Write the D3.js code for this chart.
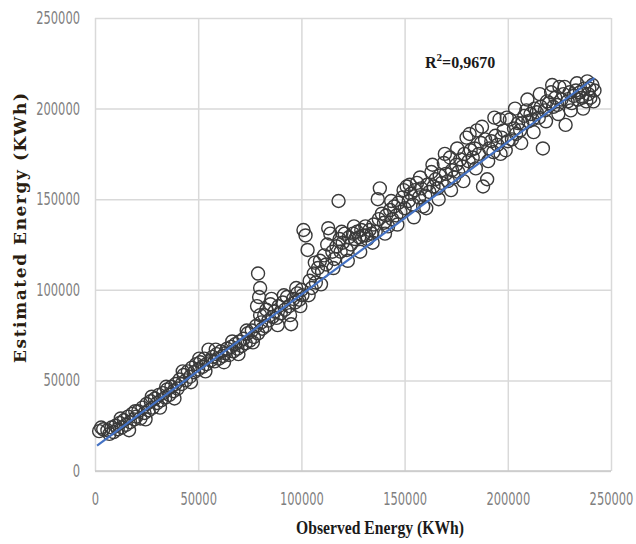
<!DOCTYPE html>
<html>
<head>
<meta charset="utf-8">
<script src="https://cdn.jsdelivr.net/npm/d3@7"></script>
<style>
    body { margin: 0; background: #fff; }
    svg { display: block; }
</style>
</head>
<body>
<div id="chart"></div>
<script>
'use strict';

// observed energy (KWh)
const observed = [
    2000, 4000, 6000, 8000, 9000, 10000, 11000, 12000, 13000, 14000,
    15000, 16000, 17000, 18000, 19000, 20000, 21000, 22000, 23000, 24000,
    25000, 26000, 27000, 28000, 29000, 30000, 31000, 32000, 33000, 34000,
    35000, 36000, 37000, 38000, 39000, 40000, 41000, 42000, 43000, 44000,
    45000, 46000, 47000, 48000, 49000, 50000, 51000, 52000, 53000, 54000,
    55000, 56000,
    57000, 58000, 59000, 60000, 61000, 62000, 63000, 64000, 65000, 66000,
    67000, 68000, 69000, 70000, 71000, 72000, 73000, 74000, 75000, 76000,
    77000, 78000, 79000, 79000, 79500, 80000, 80500, 81000,
    82000, 83000, 84000, 85000, 86000, 87000, 88000, 89000, 90000, 91000,
    92000, 93000, 94000, 95000, 96000, 97000, 98000, 99000, 100000, 100500,
    101000, 102000, 103000, 104000, 105000, 106000, 107000, 108000, 109000, 110000,
    111000, 112000, 113000, 114000, 115000, 116000, 117000, 118000, 118500, 119000,
    120000, 121000, 122000, 123000, 124000, 125000, 126000, 127000, 128000, 129000,
    130000, 131000, 132000, 133000, 134000, 135000, 136000, 137000, 138000, 139000,
    140000, 141000, 142000, 143000, 144000, 145000, 146000, 147000, 148000, 149000,
    150000,
    151000, 152000, 153000, 154000, 155000, 156000, 157000, 158000, 159000, 160000,
    161000, 162000, 163000, 164000, 165000, 166000, 167000, 168000, 169000, 170000,
    171000, 172000, 173000, 174000, 175000, 176000, 177000, 178000, 179000, 180000,
    181000, 182000, 183000, 184000, 185000, 186000, 187000, 188000, 189000, 190000,
    191000, 192000, 193000, 194000, 195000, 196000, 197000, 198000, 199000, 200000,
    201000, 202000, 203000, 204000, 205000, 206000, 207000, 208000, 209000, 210000,
    211000, 212000, 213000, 214000, 215000, 216000, 217000, 218000, 219000, 220000,
    221000, 222000, 223000, 224000, 225000, 226000, 227000, 228000, 229000, 230000,
    231000, 232000, 233000, 234000, 235000, 236000, 237000, 238000, 239000, 240000,
    241000, 242000,
    // second pass: the wider edges of the cloud
    3000, 7000, 12500, 16500, 19500, 24500, 27500, 31500, 34500, 38500,
    42500, 46500, 50500, 53500,
    58500, 62500, 66500, 69500, 73500, 76500, 78500, 80000,
    82500, 85500, 88500, 91500, 94500, 97500, 99500,
    103500, 106500, 109500, 112500, 115500, 119500, 122500, 125500, 128500, 131500,
    134500, 137500, 140500, 143500, 146500, 149500, 152500,
    154500, 157500, 160500, 163500, 166500, 169500, 172500, 175500, 178500, 181500,
    184500, 187500, 190500, 193500, 196500, 199500,
    203500, 206500, 209500, 212500, 215500, 218500, 221500, 224500, 227500, 230500,
    233500, 236500, 239500, 241500, 238500
];

// estimated energy (KWh), same order as observed
const estimated = [
    22000, 23000, 22500, 24000, 21500, 25000, 23000, 26500, 24000, 28000,
    25500, 30000, 27000, 31500, 28500, 30000, 33000, 29000, 35000, 32000,
    37000, 33500, 38500, 35000, 40000, 37500, 42000, 39000, 43000, 40500,
    45000, 42000, 46500, 44000, 48000, 45500, 50500, 48000, 53000, 50000,
    55000, 52000, 57000, 54500, 59000, 56000, 60000, 57500, 62000, 59000,
    67000, 61000,
    63000, 60500, 64500, 62000, 66000, 63500, 65000, 67500, 64000, 68500,
    66000, 70000, 67500, 71500, 69000, 73000, 70500, 76000, 72000, 77500,
    74000, 80000, 76000, 109000, 96000, 101000, 82000, 78500,
    86000, 89000, 83000, 92000, 85000, 88000, 84500, 91000, 87000, 93000,
    89000, 96000, 91000, 81000, 95000, 93000, 98000, 94500, 100000, 97000,
    133000, 130000, 122000, 105000, 101000, 109000, 104000, 112000, 116000, 110000,
    119000, 114000, 134000, 131000, 121000, 117000, 124000, 149000, 128000, 121000,
    126000, 131000, 122000, 129000, 125000, 131000, 128000, 132000, 129000, 133000,
    130000, 135000, 128000, 133000, 131000, 136000, 132000, 150000, 156000, 142000,
    137000, 141000, 135000, 144000, 139000, 146000, 141000, 148000, 143000, 151000,
    145000,
    157000, 149000, 153000, 147000, 155000, 159000, 151000, 156000, 146000, 152000,
    158000, 154000, 165000, 157000, 161000, 156000, 163000, 159000, 170000, 164000,
    160000, 173000, 166000, 162000, 169000, 165000, 172000, 168000, 175000, 184000,
    171000, 177000, 173000, 178000, 188000, 175000, 181000, 157000, 183000, 161000,
    178000, 182000, 176000, 185000, 180000, 194000, 184000, 188000, 177000, 182000,
    194000, 183000, 189000, 186000, 192000, 188000, 192000, 196000, 199000, 193000,
    197000, 194000, 200000, 198000, 195000, 201000, 178000, 199000, 204000, 203000,
    209000, 201000, 206000, 202000, 212000, 205000, 208000, 191000, 204000, 209000,
    203000, 207000, 210000, 205000, 209000, 206000, 211000, 204000, 208000, 206000,
    213000, 210000,
    24000, 20500, 29000, 22500, 33000, 28500, 41000, 35000, 46500, 40000,
    55000, 49000, 62000, 55000,
    67000, 60000, 71500, 64500, 77500, 71000, 91000, 86000,
    80000, 95000, 80500, 97000, 86000, 101000, 91000,
    97000, 115000, 103000, 125000, 112000, 132000, 116000, 135000, 121000, 130000,
    126000, 139000, 131000, 149000, 136000, 155000, 158000,
    140000, 162000, 145000, 169000, 150000, 175000, 155000, 178000, 160000, 186000,
    167000, 190000, 171000, 195000, 175000, 195000,
    200000, 181000, 205000, 187000, 208000, 193000, 213000, 197000, 212000, 199000,
    214000, 200000, 211000, 204000, 215000
];

// linear trendline as drawn in the picture
const trendX = [1000, 242000];
const trendY = [14000, 217000];

const xTicks = [0, 50000, 100000, 150000, 200000, 250000];
const yTicks = [0, 50000, 100000, 150000, 200000, 250000];
const rSquared = '=0,9670';

(function () {
    const width = 636, height = 544;
    const margin = {top: 18, right: 25, bottom: 73, left: 95};
    const w = width - margin.left - margin.right;
    const h = height - margin.top - margin.bottom;

    const svg = d3.select('#chart').append('svg')
        .attr('width', width)
        .attr('height', height);

    const g = svg.append('g')
        .attr('transform', `translate(${margin.left},${margin.top})`);

    const x = d3.scaleLinear().domain([0, 250000]).range([0, w]);
    const y = d3.scaleLinear().domain([0, 250000]).range([h, 0]);

    const tickFont = '"Liberation Sans Narrow", "DejaVu Sans Condensed", sans-serif';
    const fmt = d3.format('d');
    const digitW = 7.3;

    // squeeze tick digits horizontally, like the original's narrow font
    function styleTicks(sel) {
        sel.select('.domain').remove();
        sel.selectAll('text')
            .attr('fill', '#7f7f7f')
            .style('font-family', tickFont)
            .style('font-size', '17px')
            .each(function (d) {
                const t = d3.select(this);
                const k = Math.min(1, fmt(d).length * digitW / this.getComputedTextLength());
                const x0 = +t.attr('x') || 0;
                t.attr('x', x0 / k).attr('transform', `scale(${k},1)`);
            });
    }

    // gridlines
    g.append('g')
        .call(d3.axisLeft(y).tickValues(yTicks).tickSize(-w).tickFormat(''))
        .call(s => s.select('.domain').remove())
        .selectAll('line')
            .attr('stroke', '#d9d9d9')
            .attr('stroke-width', 1.5);

    g.append('g')
        .attr('transform', `translate(0,${h})`)
        .call(d3.axisBottom(x).tickValues(xTicks).tickSize(-h).tickFormat(''))
        .call(s => s.select('.domain').remove())
        .selectAll('line')
            .attr('stroke', '#d9d9d9')
            .attr('stroke-width', 1.5);

    // bottom axis line
    g.append('line')
        .attr('x1', 0).attr('x2', w)
        .attr('y1', h).attr('y2', h)
        .attr('stroke', '#c8c8c8')
        .attr('stroke-width', 1.5);

    // tick labels
    g.append('g')
        .call(d3.axisLeft(y).tickValues(yTicks).tickSize(0).tickPadding(15).tickFormat(fmt))
        .call(styleTicks);

    g.append('g')
        .attr('transform', `translate(0,${h})`)
        .call(d3.axisBottom(x).tickValues(xTicks).tickSize(0).tickPadding(22).tickFormat(fmt))
        .call(styleTicks);

    // points
    const points = observed.map((d, i) => ({obs: d, est: estimated[i]}));
    g.append('g').selectAll('circle')
        .data(points)
        .enter()
        .append('circle')
            .attr('cx', d => x(d.obs))
            .attr('cy', d => y(d.est))
            .attr('r', 6.5)
            .attr('fill', 'none')
            .attr('stroke', '#3a3a3a')
            .attr('stroke-width', 1.4);

    // trendline
    g.append('line')
        .attr('x1', x(trendX[0])).attr('y1', y(trendY[0]))
        .attr('x2', x(trendX[1])).attr('y2', y(trendY[1]))
        .attr('stroke', '#4472c4')
        .attr('stroke-width', 2.2);

    // R squared label
    const r2 = svg.append('text')
        .attr('x', 425)
        .attr('y', 68)
        .attr('fill', '#1a1a1a')
        .style('font-family', '"Liberation Serif", "DejaVu Serif", serif')
        .style('font-weight', 'bold')
        .style('font-size', '16px');
    r2.append('tspan').text('R');
    r2.append('tspan').attr('dy', -7).style('font-size', '11px').text('2');
    r2.append('tspan').attr('dy', 7).text(rSquared);

    // axis titles
    svg.append('text')
        .attr('x', 296)
        .attr('y', 534)
        .attr('textLength', 168)
        .attr('lengthAdjust', 'spacingAndGlyphs')
        .attr('fill', '#1a1a1a')
        .style('font-family', '"Liberation Serif", "DejaVu Serif", serif')
        .style('font-weight', 'bold')
        .style('font-size', '18px')
        .text('Observed Energy (KWh)');

    svg.append('text')
        .attr('transform', 'translate(26,363) rotate(-90)')
        .attr('textLength', 270)
        .attr('lengthAdjust', 'spacing')
        .attr('fill', '#2a1d10')
        .style('font-family', '"DejaVu Serif", "Liberation Serif", serif')
        .style('font-weight', 'bold')
        .style('font-size', '17px')
        .text('Estimated Energy (KWh)');
})();
</script>
</body>
</html>
